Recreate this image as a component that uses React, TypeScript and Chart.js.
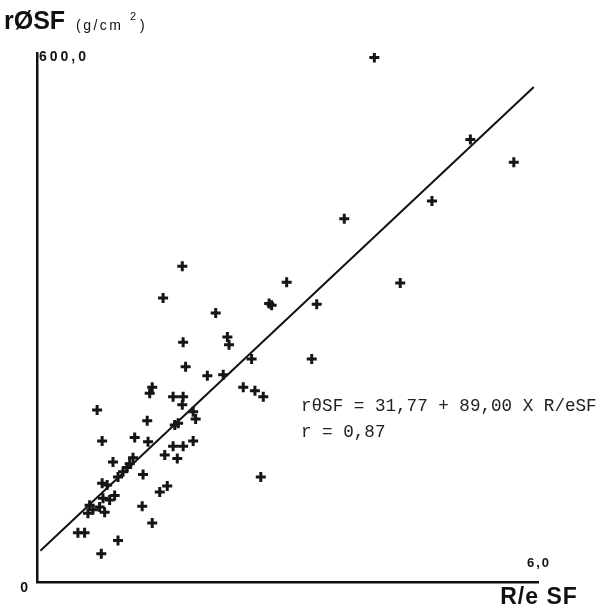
import React, { useEffect, useRef } from "react";
import { Chart, registerables } from "chart.js";

Chart.register(...registerables);

// R/e SF values (x) and rØSF values (y, g/cm²)
const reSF = [
  4.04, 5.19, 5.71, 3.68, 4.73, 4.35, 1.74, 1.51, 2.99, 2.78, 2.81, 3.35, 2.14, 2.28, 2.30,
  1.75, 2.57, 3.29, 1.78, 2.04, 2.23, 2.47, 2.61, 2.71, 2.68, 1.38, 1.35, 1.63, 1.75, 1.74,
  0.72, 1.32, 1.87, 1.90, 1.65, 1.69, 0.78, 1.17, 1.33, 1.63, 1.75, 1.87, 1.53, 1.68, 0.91,
  1.15, 1.11, 1.08, 1.03, 0.97, 1.27, 0.78, 0.84, 0.93, 0.79, 0.87, 0.63, 0.67, 0.61, 0.75,
  0.81, 1.47, 1.56, 1.26, 1.38, 0.49, 0.57, 0.97, 0.77,
];
const rOSF = [
  595, 502, 476, 412, 432, 339, 358, 322, 340, 316, 314, 315, 305, 278, 269,
  272, 253, 253, 244, 234, 235, 221, 217, 210, 119, 221, 214, 210, 210, 201,
  195, 183, 193, 185, 178, 180, 160, 164, 159, 154, 154, 160, 144, 140, 136,
  141, 134, 130, 125, 119, 122, 112, 110, 98, 95, 93, 87, 82, 78, 85,
  79, 102, 109, 86, 67, 56, 56, 47, 32,
];

// Regression: rθSF = 31,77 + 89,00 X R/eSF
const fitIntercept = 31.77;
const fitSlope = 89.0;
const fitRange = [0.04, 5.95];

const xMin = 0;
const xMax = 6;
const yMin = 0;
const yMax = 600;
const xTickLabels = ["0", "6,0"];
const yTickLabels = ["600,0"];
const equationLines = ["rθSF = 31,77 + 89,00 X R/eSF", "r = 0,87"];

const textPlugin = {
  id: "annotText",
  afterDraw(chart: any) {
    const ctx = chart.ctx;
    const xs = chart.scales.x;
    const ys = chart.scales.y;
    const x0 = xs.getPixelForValue(xMin);
    const x6 = xs.getPixelForValue(xMax);
    const y0 = ys.getPixelForValue(yMin);
    const yTop = ys.getPixelForValue(yMax);
    ctx.save();
    ctx.fillStyle = "#111";
    ctx.textBaseline = "middle";
    ctx.textAlign = "left";

    // Y axis title
    ctx.letterSpacing = "0px";
    ctx.font = "bold 25px 'Liberation Sans', Arial, sans-serif";
    ctx.fillText("rØSF", 4, 22);
    ctx.letterSpacing = "2.5px";
    ctx.font = "14px 'Liberation Sans', Arial, sans-serif";
    ctx.fillText("(g/cm", 76, 26);
    ctx.letterSpacing = "0px";
    ctx.font = "11px 'Liberation Sans', Arial, sans-serif";
    ctx.fillText("2", 130, 17);
    ctx.font = "14px 'Liberation Sans', Arial, sans-serif";
    ctx.fillText(")", 140, 26);

    // Y tick label at top (inside, right of axis)
    ctx.letterSpacing = "3px";
    ctx.font = "bold 14px 'Liberation Sans', Arial, sans-serif";
    ctx.fillText(yTickLabels[0], x0 + 2, yTop + 4);

    // Origin label
    ctx.letterSpacing = "0px";
    ctx.font = "bold 14px 'Liberation Sans', Arial, sans-serif";
    ctx.textAlign = "right";
    ctx.fillText(xTickLabels[0], x0 - 9, y0 + 6);

    // x max label
    ctx.letterSpacing = "2px";
    ctx.font = "bold 13px 'Liberation Sans', Arial, sans-serif";
    ctx.textAlign = "left";
    ctx.fillText(xTickLabels[1], x6 - 11, y0 - 19);

    // X axis title
    ctx.letterSpacing = "1px";
    ctx.font = "bold 23px 'Liberation Sans', Arial, sans-serif";
    ctx.textAlign = "center";
    ctx.fillText("R/e SF", x6 + 1, y0 + 16);

    // Equation
    ctx.letterSpacing = "0px";
    ctx.font = "17.6px 'Liberation Mono', 'DejaVu Sans Mono', monospace";
    ctx.textAlign = "left";
    ctx.fillStyle = "#222";
    ctx.fillText(equationLines[0], 301, 406);
    ctx.fillText(equationLines[1], 301, 432);
    ctx.restore();
  },
};

export default function App() {
  const ref = useRef<HTMLCanvasElement | null>(null);

  useEffect(() => {
    document.body.style.margin = "0";
    const canvas = ref.current;
    if (!canvas) return;
    const points = reSF.map((x, i) => ({ x, y: rOSF[i] }));
    const fitLine = fitRange.map((x) => ({ x, y: fitIntercept + fitSlope * x }));
    const chart = new Chart(canvas, {
      type: "scatter",
      data: {
        datasets: [
          {
            label: "points",
            data: points,
            pointStyle: "cross",
            pointRadius: 5,
            pointBorderWidth: 3,
            borderColor: "#151515",
            backgroundColor: "#151515",
            showLine: false,
          },
          {
            type: "line",
            label: "fit",
            data: fitLine,
            borderColor: "#111",
            borderWidth: 2,
            pointRadius: 0,
            showLine: true,
            fill: false,
          } as any,
        ],
      },
      options: {
        animation: false,
        responsive: false,
        devicePixelRatio: 1,
        layout: { padding: { left: 37, right: 64, top: 53, bottom: 27 } },
        plugins: {
          legend: { display: false },
          tooltip: { enabled: false },
          title: { display: false },
        },
        scales: {
          x: {
            type: "linear",
            min: xMin,
            max: xMax,
            grid: { display: false, drawTicks: false },
            ticks: { display: false },
            border: { display: true, color: "#111", width: 2.5 },
          },
          y: {
            type: "linear",
            min: yMin,
            max: yMax,
            grid: { display: false, drawTicks: false },
            ticks: { display: false },
            border: { display: true, color: "#111", width: 2.5 },
          },
        },
      },
      plugins: [textPlugin],
    });
    return () => chart.destroy();
  }, []);

  return (
    <div style={{ width: 602, height: 609, background: "#fff" }}>
      <canvas ref={ref} width={602} height={609} style={{ display: "block" }} />
    </div>
  );
}
